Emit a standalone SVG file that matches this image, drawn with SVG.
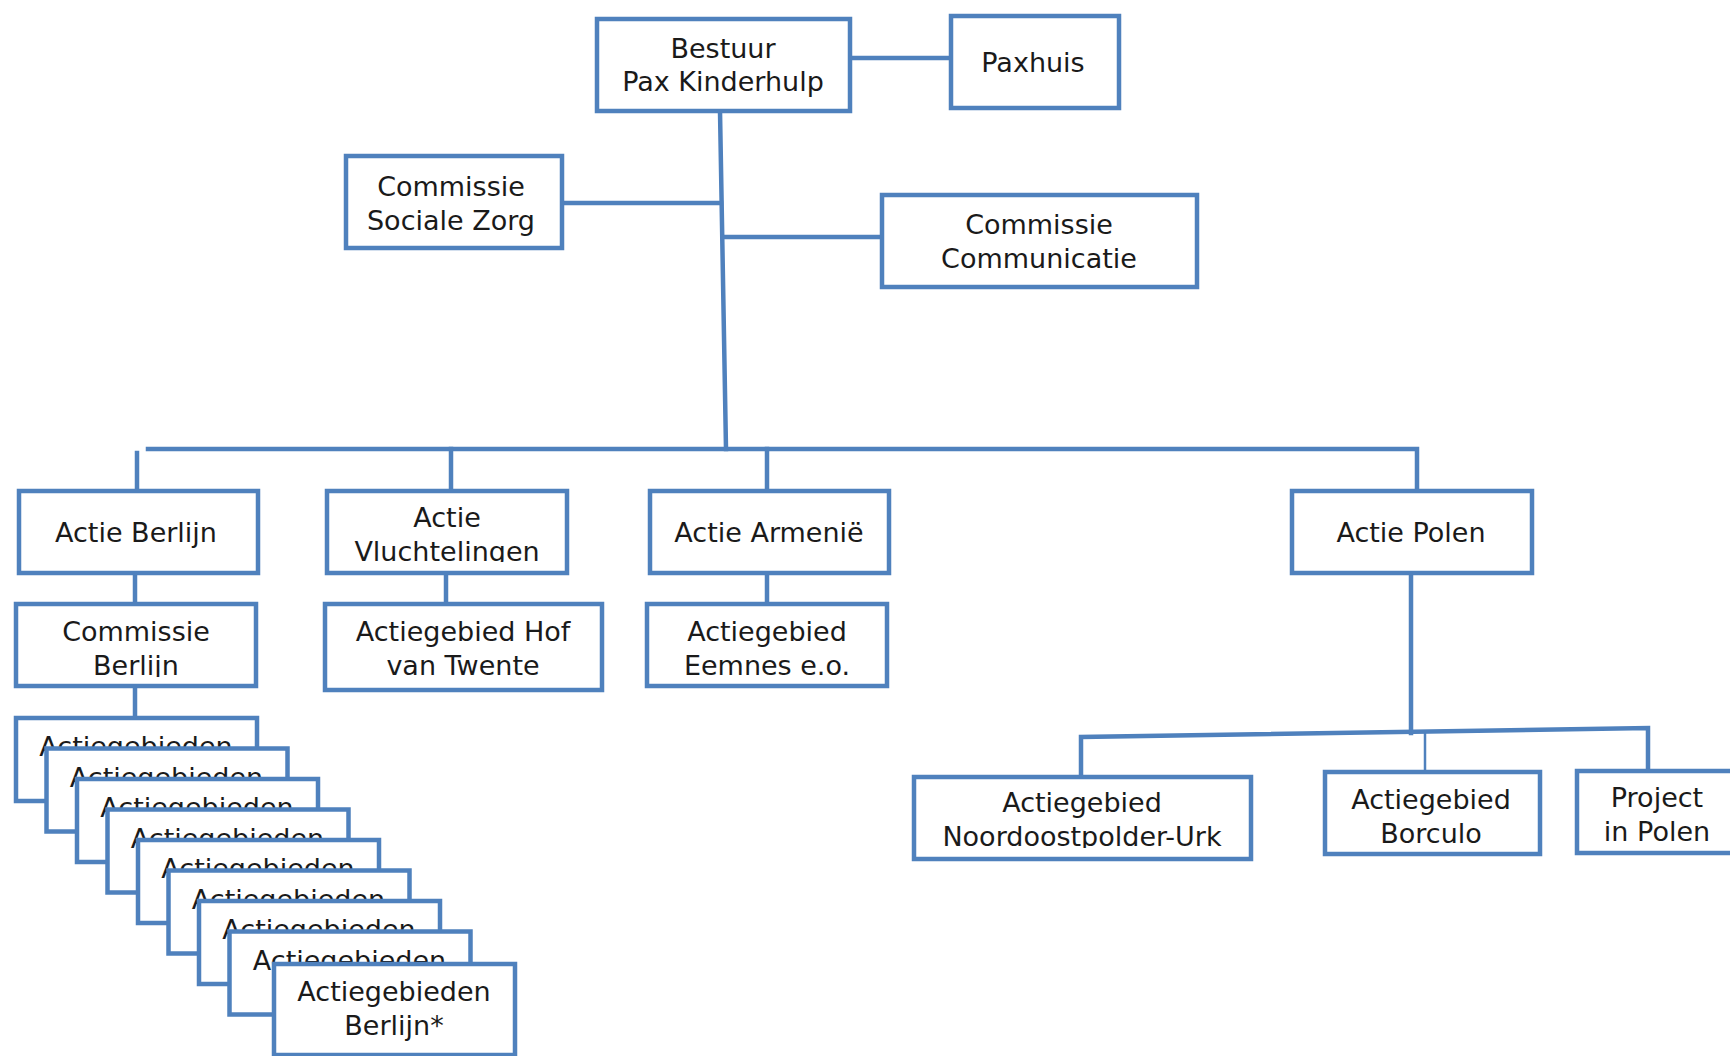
<svg xmlns="http://www.w3.org/2000/svg" width="1730" height="1056" viewBox="0 0 1730 1056">
<style>
.box{fill:#fff;stroke:#4F81BD;stroke-width:4.5}
.ln{fill:none;stroke:#4F81BD;stroke-width:4.5;stroke-linecap:square}
.t{font-family:"DejaVu Sans",Verdana,sans-serif;font-size:27px;fill:#1a1a1a;text-anchor:middle}
</style>
<defs>
<clipPath id="cVl"><rect x="327" y="491" width="240" height="71"/></clipPath>
<clipPath id="cCB"><rect x="16" y="604" width="240" height="73"/></clipPath>
<clipPath id="cNo"><rect x="914" y="777" width="337" height="71"/></clipPath>
</defs>
<rect width="1730" height="1056" fill="#fff"/>
<g id="connectors">
<line class="ln" x1="850" y1="58" x2="951" y2="58"/>
<line class="ln" x1="720" y1="111" x2="726" y2="449"/>
<line class="ln" x1="562" y1="203" x2="721" y2="203"/>
<line class="ln" x1="723" y1="237" x2="882" y2="237"/>
<polyline class="ln" points="148,449 1417,449 1417,491"/>
<line class="ln" x1="137" y1="453" x2="137" y2="491"/>
<line class="ln" x1="451" y1="449" x2="451" y2="491"/>
<line class="ln" x1="767" y1="449" x2="767" y2="491"/>
<line class="ln" x1="135" y1="573" x2="135" y2="604"/>
<line class="ln" x1="446" y1="573" x2="446" y2="604"/>
<line class="ln" x1="767" y1="573" x2="767" y2="604"/>
<line class="ln" x1="135" y1="686" x2="135" y2="716"/>
<line class="ln" x1="1411" y1="573" x2="1411" y2="733"/>
<polyline class="ln" points="1081,777 1081,737 1648,728 1648,771"/>
<line x1="1425" y1="733" x2="1425" y2="772" stroke="#4F81BD" stroke-width="2.5"/>
</g>
<g id="bestuur"><rect class="box" x="597" y="19" width="253" height="92"/><text class="t" x="723" y="58">Bestuur</text><text class="t" x="723" y="91">Pax Kinderhulp</text></g>
<g id="paxhuis"><rect class="box" x="951" y="16" width="168" height="92"/><text class="t" x="1033" y="72">Paxhuis</text></g>
<g id="sociale-zorg"><rect class="box" x="346" y="156" width="216" height="92"/><text class="t" x="451" y="196">Commissie</text><text class="t" x="451" y="230">Sociale Zorg</text></g>
<g id="communicatie"><rect class="box" x="882" y="195" width="315" height="92"/><text class="t" x="1039" y="234">Commissie</text><text class="t" x="1039" y="268">Communicatie</text></g>
<g id="actie-berlijn"><rect class="box" x="19" y="491" width="239" height="82"/><text class="t" x="136" y="542">Actie Berlijn</text></g>
<g id="actie-vluchtelingen"><rect class="box" x="327" y="491" width="240" height="82"/><text class="t" x="447" y="527">Actie</text><text class="t" x="447" y="561" clip-path="url(#cVl)">Vluchtelingen</text></g>
<g id="actie-armenie"><rect class="box" x="650" y="491" width="239" height="82"/><text class="t" x="769" y="542">Actie Armenië</text></g>
<g id="actie-polen"><rect class="box" x="1292" y="491" width="240" height="82"/><text class="t" x="1411" y="542">Actie Polen</text></g>
<g id="commissie-berlijn"><rect class="box" x="16" y="604" width="240" height="82"/><text class="t" x="136" y="641">Commissie</text><text class="t" x="136" y="675" clip-path="url(#cCB)">Berlijn</text></g>
<g id="hof-van-twente"><rect class="box" x="325" y="604" width="277" height="86"/><text class="t" x="463" y="641">Actiegebied Hof</text><text class="t" x="463" y="675">van Twente</text></g>
<g id="eemnes"><rect class="box" x="647" y="604" width="240" height="82"/><text class="t" x="767" y="641">Actiegebied</text><text class="t" x="767" y="675">Eemnes e.o.</text></g>
<g id="actiegebieden-stack">
<g id="stack-1"><rect class="box" x="16" y="718" width="241" height="83"/><text class="t" x="136" y="756">Actiegebieden</text></g>
<g id="stack-2"><rect class="box" x="46.5" y="748.5" width="241" height="83"/><text class="t" x="166.5" y="786.5">Actiegebieden</text></g>
<g id="stack-3"><rect class="box" x="77" y="779" width="241" height="83"/><text class="t" x="197" y="817">Actiegebieden</text></g>
<g id="stack-4"><rect class="box" x="107.5" y="809.5" width="241" height="83"/><text class="t" x="227.5" y="847.5">Actiegebieden</text></g>
<g id="stack-5"><rect class="box" x="138" y="840" width="241" height="83"/><text class="t" x="258" y="878">Actiegebieden</text></g>
<g id="stack-6"><rect class="box" x="168.5" y="870.5" width="241" height="83"/><text class="t" x="288.5" y="908.5">Actiegebieden</text></g>
<g id="stack-7"><rect class="box" x="199" y="901" width="241" height="83"/><text class="t" x="319" y="939">Actiegebieden</text></g>
<g id="stack-8"><rect class="box" x="229.5" y="931.5" width="241" height="83"/><text class="t" x="349.5" y="969.5">Actiegebieden</text></g>
<g id="stack-9"><rect class="box" x="274" y="964" width="241" height="91"/><text class="t" x="394" y="1001">Actiegebieden</text><text class="t" x="394" y="1035">Berlijn*</text></g>
</g>
<g id="noordoostpolder"><rect class="box" x="914" y="777" width="337" height="82"/><text class="t" x="1082" y="812">Actiegebied</text><text class="t" x="1082" y="846" clip-path="url(#cNo)">Noordoostpolder-Urk</text></g>
<g id="borculo"><rect class="box" x="1325" y="772" width="215" height="82"/><text class="t" x="1431" y="809">Actiegebied</text><text class="t" x="1431" y="843">Borculo</text></g>
<g id="project-polen"><rect class="box" x="1577" y="771" width="200" height="82"/><text class="t" x="1657" y="807">Project</text><text class="t" x="1657" y="841">in Polen</text></g>
</svg>
